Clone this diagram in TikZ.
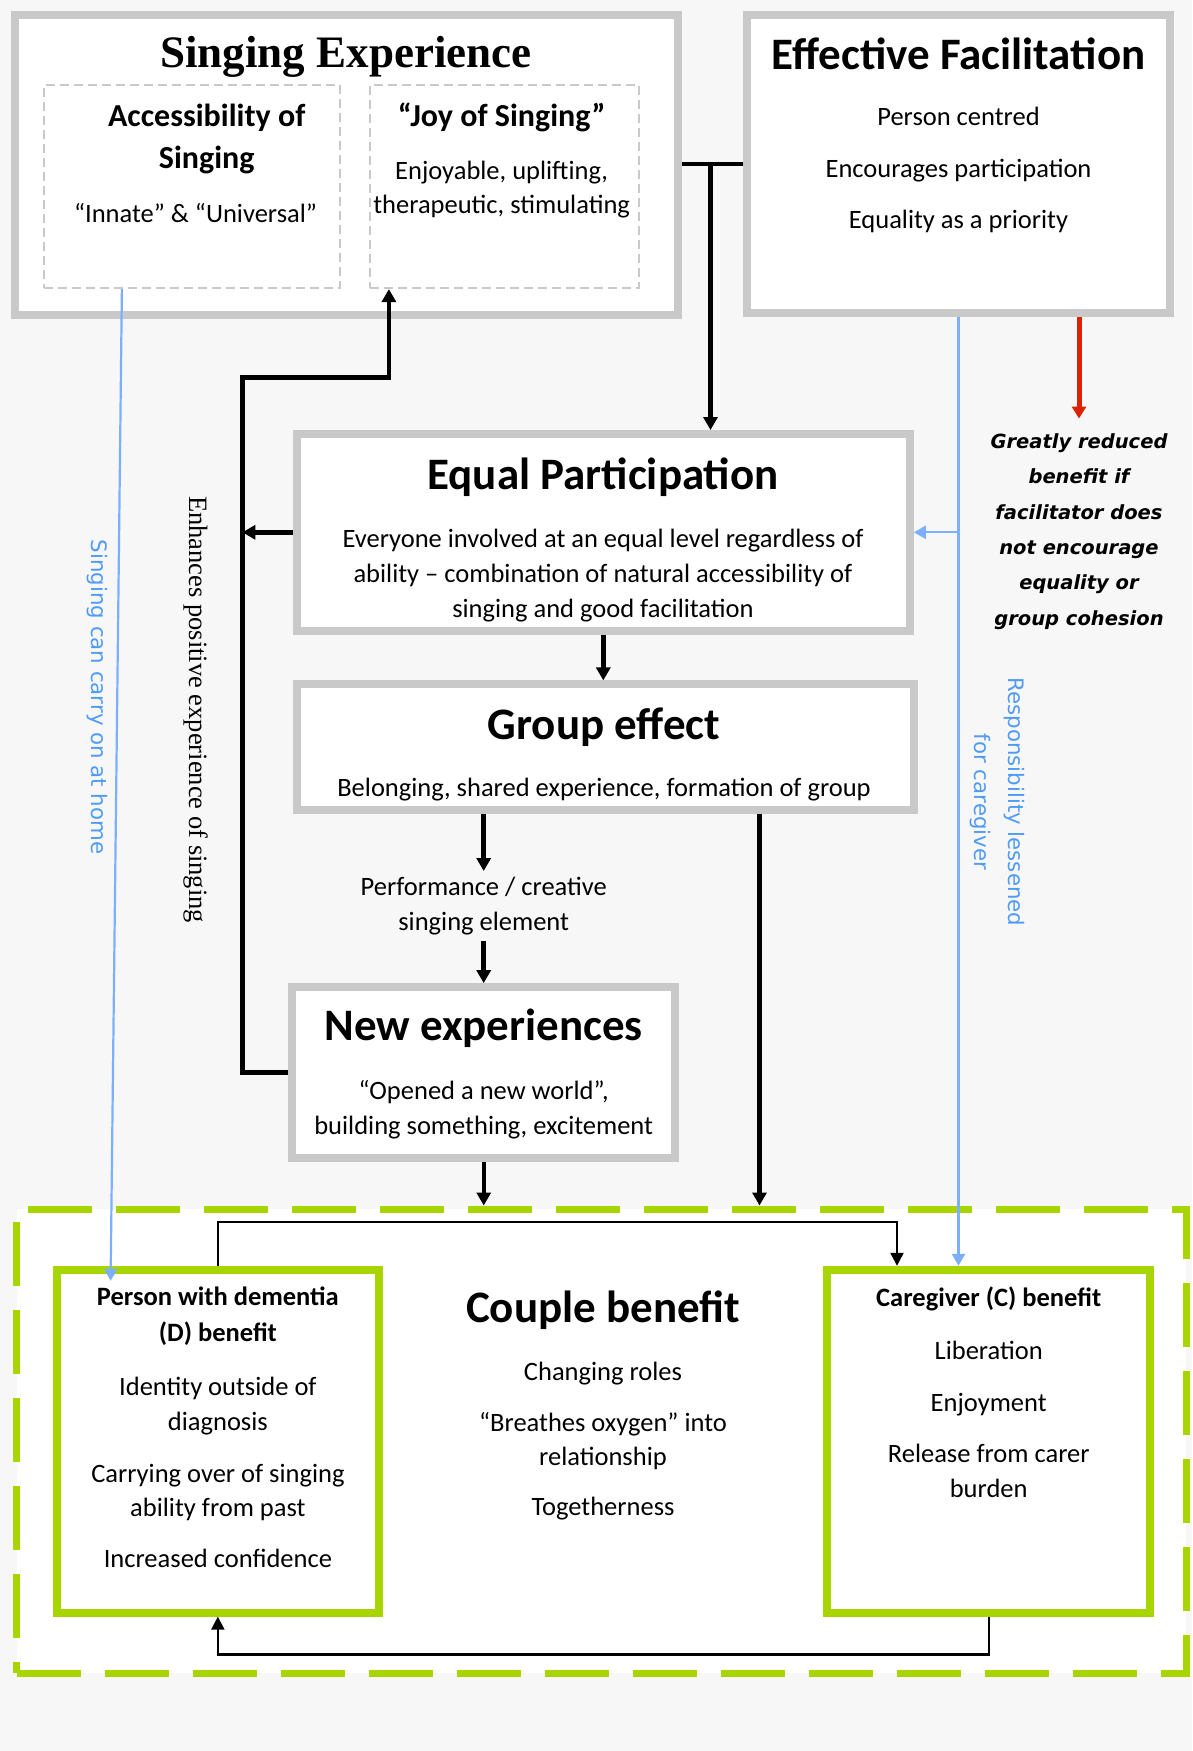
\documentclass[tikz,border=0pt]{standalone}
\usepackage{fontspec}
\setmainfont{Carlito}
\newfontfamily\serifface{Liberation Serif}
\newfontfamily\verdface{DejaVu Sans}
\usetikzlibrary{arrows.meta}

\definecolor{bggrey}{RGB}{247,247,247}
\definecolor{boxgrey}{RGB}{201,201,201}
\definecolor{limegreen}{RGB}{168,212,0}
\definecolor{lineblue}{RGB}{125,175,255}
\definecolor{textblue}{RGB}{80,155,245}
\definecolor{warnred}{RGB}{221,34,0}

\tikzset{
	greybox/.style={draw=boxgrey, line width=8pt, fill=white},
	dashbox/.style={draw=boxgrey, line width=2.2pt, dash pattern=on 9pt off 5pt},
	greenbox/.style={draw=limegreen, line width=8pt, fill=white},
	couplebox/.style={draw=limegreen, line width=7pt, dash pattern=on 64pt off 24pt, fill=white},
	serifhead/.style={font=\serifface\bfseries\fontsize{45}{54}\selectfont},
	headtext/.style={font=\bfseries\fontsize{45}{54}\selectfont},
	subhead/.style={font=\bfseries\fontsize{32}{42.5}\selectfont, align=center},
	smallhead/.style={font=\bfseries\fontsize{26.5}{35.8}\selectfont, align=center},
	bodytext/.style={font=\fontsize{26.5}{34.6}\selectfont, align=center},
	bluetext/.style={rotate=-90, text=textblue, font=\verdface\fontsize{21.3}{34.5}\selectfont, align=center},
	redtext/.style={font=\verdface\bfseries\itshape\fontsize{19.5}{35.3}\selectfont, align=center, inner sep=0pt},
	thickline/.style={line width=4.5pt},
	thickarrow/.style={->, >={Triangle[length=13pt,width=14pt]}, line width=4.5pt},
	thinarrow/.style={->, >={Triangle[length=13pt,width=13pt]}, line width=2.3pt},
	bluearrow/.style={->, >={Triangle[length=12pt,width=13pt]}, draw=lineblue, line width=2.2pt},
	redarrow/.style={->, >={Triangle[length=12pt,width=14pt]}, draw=warnred, line width=5pt}
}

\begin{document}
\begin{tikzpicture}[x=1pt, y=-1pt]
\fill[bggrey] (0,0) rectangle (1192,1751);

% top row
\node at (346.25,164.75)[greybox, minimum width=663.5pt, minimum height=300.5pt](SE){};
\node at (958.5,163.75)[greybox, minimum width=423pt, minimum height=298.5pt](EF){};
\node at (191.6,186.5)[dashbox, minimum width=296pt, minimum height=203pt](ACC){};
\node at (504.5,186.5)[dashbox, minimum width=269pt, minimum height=203pt](JOY){};

\node at (346,57)[serifhead](SEt){Singing Experience};
\node at (206.7,138.8)[subhead](ACCt){Accessibility of\\Singing};
\node at (195.5,213)[bodytext](ACCb){“Innate” \& “Universal”};
\node at (501.6,117.5)[subhead](JOYt){“Joy of Singing”};
\node at (501.6,189.5)[bodytext](JOYb){Enjoyable, uplifting,\\therapeutic, stimulating};

\node at (958.5,54)[headtext](EFt){Effective Facilitation};
\node at (958.5,170)[bodytext](EFb){Person centred\\[17pt]Encourages participation\\[17pt]Equality as a priority};

% middle column
\node at (603.3,532.3)[greybox, minimum width=613pt, minimum height=196.6pt](EP){};
\node at (603,477)[headtext](EPt){Equal Participation};
\node at (603,575.5)[bodytext](EPb){Everyone involved at an equal level regardless of\\ability – combination of natural accessibility of\\singing and good facilitation};

\node at (605.5,747.4)[greybox, minimum width=617.6pt, minimum height=126pt](GE){};
\node at (604,727)[headtext](GEt){Group effect};
\node at (604,790)[bodytext](GEb){Belonging, shared experience, formation of group};

\node at (483.7,906)[bodytext, inner sep=6pt](PERF){Performance / creative\\singing element};

\node at (483.75,1072.5)[greybox, minimum width=383pt, minimum height=170.8pt](NE){};
\node at (483.7,1028.5)[headtext](NEt){New experiences};
\node at (483.7,1109.5)[bodytext](NEb){“Opened a new world”,\\building something, excitement};

% side notes
\node at (1079,531.5)[redtext](WARN){Greatly reduced\\benefit if\\facilitator does\\not encourage\\equality or\\group cohesion};
\node at (195.5,709.6)[rotate=-90, font=\serifface\fontsize{26.5}{32}\selectfont](ENH){Enhances positive experience of singing};
\node at (97.2,697)[bluetext](HOME){Singing can carry on at home};
\node at (997.25,802)[bluetext](RESP){Responsibility lessened\\for caregiver};

% couple benefit
\node at (601.6,1441.2)[couplebox, minimum width=1169.4pt, minimum height=464.4pt](CB){};
\node at (217.85,1441.2)[greenbox, minimum width=322.7pt, minimum height=342.8pt](DB){};
\node at (988.75,1441.2)[greenbox, minimum width=322.7pt, minimum height=342.8pt](CGB){};

\node at (603,1310)[headtext](CBt){Couple benefit};
\node at (603,1441)[bodytext](CBb){Changing roles\\[16pt]“Breathes oxygen” into\\relationship\\[15pt]Togetherness};
\node at (217.9,1316.5)[smallhead](DBt){Person with dementia\\(D) benefit};
\node at (217.9,1472.5)[bodytext](DBb){Identity outside of\\diagnosis\\[17pt]Carrying over of singing\\ability from past\\[16pt]Increased confidence};
\node at (988.7,1298.5)[smallhead](CGBt){Caregiver (C) benefit};
\node at (988.7,1419)[bodytext](CGBb){Liberation\\[18pt]Enjoyment\\[16pt]Release from carer\\burden};

% arrows
\coordinate (TJ) at (710.5,164);
\draw[thickline] (TJ -| SE.east) -- (TJ -| EF.west);
\draw[thickarrow] (TJ) -- (TJ |- EP.north);
\draw[thickarrow] (EP.south) -- (EP.south |- GE.north);
\draw[thickarrow] (GE.south -| PERF.north) -- (PERF.north);
\draw[thickarrow] (PERF.south) -- (PERF.south |- NE.north);
\draw[thickarrow] (NE.south) -- (NE.south |- CB.north);
\coordinate (GD) at ([xshift=154pt]GE.south);
\draw[thickarrow] (GD) -- (GD |- CB.north);

\coordinate (LOOP) at (242.4,377.6);
\coordinate (JOYIN) at ([xshift=20pt]JOY.south west);
\draw[thickarrow] (NE.west) -| (LOOP) -| (JOYIN);
\draw[thickarrow] (EP.west) -- (EP.west -| LOOP);

\coordinate (HOMEOUT) at ([xshift=79.4pt]ACC.south west);
\coordinate (HOMEIN) at ([xshift=-107.25pt,yshift=-15pt]DB.north);
\draw[bluearrow] (HOMEOUT) -- (HOMEIN);
\draw[bluearrow] (EF.south) -- (EF.south |- CGB.north);
\draw[bluearrow] (EF.south |- EP.east) -- (EP.east);

\draw[redarrow] ([xshift=120.5pt]EF.south) -- ([yshift=15pt]WARN.north);

\draw[thinarrow] (DB.north) -- ++(0,-44) -| ([xshift=-91.75pt]CGB.north);
\draw[thinarrow] (CGB.south) -- ++(0,38) -| (DB.south);
\end{tikzpicture}
\end{document}
